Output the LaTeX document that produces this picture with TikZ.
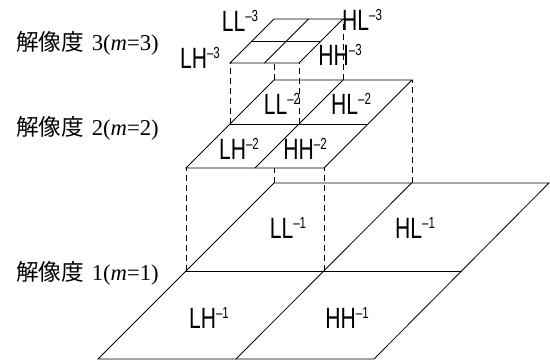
\documentclass[tikz,border=0pt]{standalone}
\usepackage{fontspec}
\setmainfont{Liberation Serif}
\newfontfamily\cjkfont{Noto Sans CJK JP}
\newfontfamily\bandfont[FakeStretch=0.72]{Liberation Sans}
\newcommand{\band}[2]{{\bandfont\fontsize{22}{24}\selectfont #1\raisebox{7pt}{\fontsize{12}{12}\selectfont –#2}}}
\newcommand{\reso}[1]{{\cjkfont 解像度}\,\,#1(\textit{m}=#1)}
\tikzset{plane/.style = {draw, fill=white, line width=0.6pt}}
\tikzset{grid/.style = {line width=0.6pt}}
\tikzset{drop/.style = {line width=0.6pt, dash pattern=on 4.5pt off 3pt}}
\tikzset{bandlbl/.style = {inner sep=0pt}}
\tikzset{levellbl/.style = {anchor=west, inner sep=0pt, font=\fontsize{17}{20}\selectfont}}

\begin{document}
\begin{tikzpicture}[x=0.75pt, y=-0.75pt]
        \useasboundingbox (0, 0) rectangle (550, 361);

        % level 1
        \draw [plane] (98, 359) -- (374, 359) -- (549, 183) -- (274, 183) -- cycle;
        \draw [grid] (186, 271) -- (461.5, 271);
        \draw [grid] (236, 359) -- (411.5, 183);

        \draw [drop] (186, 271) -- (186, 168);
        \draw [drop] (324, 271) -- (324, 168);
        \draw [drop] (412, 183) -- (412, 80);
        \draw [drop] (274, 183) -- (274, 80);

        % level 2
        \draw [plane] (186, 168) -- (324, 168) -- (412, 80) -- (274, 80) -- cycle;
        \draw [grid] (230, 124) -- (368, 124);
        \draw [grid] (255, 168) -- (343, 80);

        \draw [drop] (230, 124) -- (230, 63);
        \draw [drop] (299, 124) -- (299, 63);
        \draw [drop] (343, 80) -- (343, 19);
        \draw [drop] (274, 80) -- (274, 19);

        % level 3
        \draw [plane] (230, 63) -- (299, 63) -- (343, 19) -- (274, 19) -- cycle;
        \draw [grid] (252, 41) -- (321, 41);
        \draw [grid] (264.5, 63) -- (308.5, 19);

        \node [bandlbl] (ll1) at (288, 228) {\band{LL}{1}};
        \node [bandlbl] (hl1) at (415, 228) {\band{HL}{1}};
        \node [bandlbl] (lh1) at (209, 318) {\band{LH}{1}};
        \node [bandlbl] (hh1) at (347, 318) {\band{HH}{1}};

        \node [bandlbl] (ll2) at (282, 104) {\band{LL}{2}};
        \node [bandlbl] (hl2) at (351, 104) {\band{HL}{2}};
        \node [bandlbl] (lh2) at (239, 149) {\band{LH}{2}};
        \node [bandlbl] (hh2) at (305, 149) {\band{HH}{2}};

        \node [bandlbl] (ll3) at (240, 21) {\band{LL}{3}};
        \node [bandlbl] (hl3) at (362, 20) {\band{HL}{3}};
        \node [bandlbl] (lh3) at (200, 58) {\band{LH}{3}};
        \node [bandlbl] (hh3) at (340, 55) {\band{HH}{3}};

        \node [levellbl] (res3) at (16, 43) {\reso{3}};
        \node [levellbl] (res2) at (16, 128) {\reso{2}};
        \node [levellbl] (res1) at (16, 273) {\reso{1}};
      \end{tikzpicture}
\end{document}
